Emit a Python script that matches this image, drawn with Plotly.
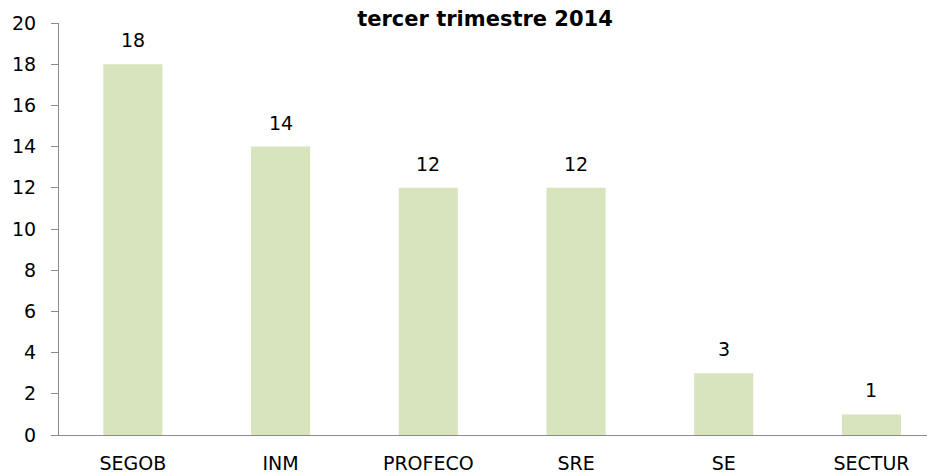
import plotly.graph_objects as go

categories = ["SEGOB", "INM", "PROFECO", "SRE", "SE", "SECTUR"]
values = [18, 14, 12, 12, 3, 1]
y_ticks = [0, 2, 4, 6, 8, 10, 12, 14, 16, 18, 20]

font_family = "DejaVu Sans, sans-serif"

# the page body has an 8px margin, so the figure starts at (8, 8) in the window
OFF = 8
W, H = 935, 476

fig = go.Figure(
    go.Bar(
        x=categories,
        y=values,
        marker=dict(color="#d7e4bd", line=dict(width=0)),
        width=0.4,
        hoverinfo="x+y",
    )
)

for c, v in zip(categories, values):
    fig.add_annotation(
        x=c, y=v, text=str(v), showarrow=False,
        yanchor="bottom", yshift=11,
        font=dict(size=19, color="#000000", family=font_family),
    )

fig.update_layout(
    width=W,
    height=H,
    margin=dict(l=59 - OFF, r=OFF, t=23 - OFF, b=476 - 435 + OFF),
    paper_bgcolor="white",
    plot_bgcolor="white",
    showlegend=False,
    font=dict(family=font_family, size=19, color="#000000"),
    title=dict(
        text="<b>tercer trimestre 2014</b>",
        x=(485 - OFF) / W,
        xanchor="center",
        y=1 - 3 / H,
        yanchor="top",
        pad=dict(t=0, b=0, l=0, r=0),
        font=dict(size=21, color="#000000", family=font_family),
        automargin=False,
    ),
    xaxis=dict(
        range=[-0.5, 5.43],
        showline=True,
        linecolor="#8c8c8c",
        linewidth=1,
        ticks="",
        showgrid=False,
        tickfont=dict(size=19),
        ticklabelstandoff=11,
        automargin=False,
    ),
    yaxis=dict(
        range=[0, 20],
        tickvals=y_ticks,
        showline=True,
        linecolor="#8c8c8c",
        linewidth=1,
        ticks="outside",
        ticklen=7,
        tickcolor="#8c8c8c",
        showgrid=False,
        zeroline=False,
        tickfont=dict(size=19),
        ticklabelstandoff=11,
        automargin=False,
    ),
)

fig.write_html("out.html")
